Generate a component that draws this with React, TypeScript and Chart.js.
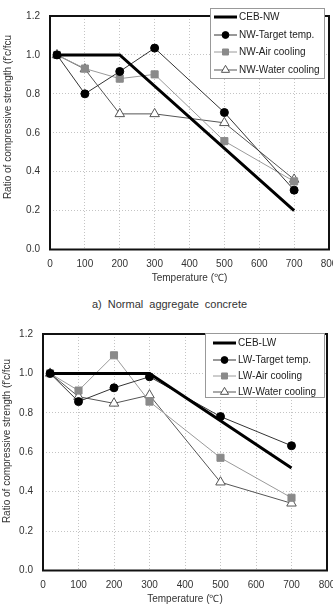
import React, { useEffect, useRef } from "react";
import { Chart, registerables } from "chart.js";
import { drawPoint } from "chart.js/helpers";

Chart.register(...registerables);

// Measured temperatures (°C) for the test series
const temperatures = [20, 100, 200, 300, 500, 700];

// a) Normal aggregate concrete
const nwCebTemps = [20, 200, 700];
const nwCebRatio = [1.0, 1.0, 0.2];
const nwTarget = [1.0, 0.8, 0.915, 1.035, 0.704, 0.305];
const nwAir = [1.0, 0.93, 0.878, 0.9, 0.557, 0.35];
const nwWater = [1.0, 0.927, 0.697, 0.697, 0.651, 0.36];

// Lightweight aggregate concrete
const lwCebTemps = [20, 300, 700];
const lwCebRatio = [1.0, 1.0, 0.52];
const lwTarget = [1.0, 0.857, 0.927, 0.983, 0.781, 0.633];
const lwAir = [1.0, 0.913, 1.092, 0.857, 0.572, 0.369];
const lwWater = [1.0, 0.882, 0.848, 0.89, 0.448, 0.341];

// Axis ticks
const tempTicks = [0, 100, 200, 300, 400, 500, 600, 700, 800];
const ratioTicks = [0, 0.2, 0.4, 0.6, 0.8, 1.0, 1.2];

const xTitle = "Temperature (\u2103)";
const yTitle = "Ratio of compressive strength (f'c/fcu";
const captionNW = "a) Normal aggregate concrete";

const FONT = "Arial, 'Liberation Sans', sans-serif";

const pts = (xs: number[], ys: number[]) => xs.map((x, i) => ({ x, y: ys[i] }));

function makeDatasets(prefix: string, cebX: number[], cebY: number[], target: number[], air: number[], water: number[]) {
  return [
    {
      label: `CEB-${prefix}`,
      data: pts(cebX, cebY),
      borderColor: "#000",
      borderWidth: 3,
      pointRadius: 0,
      pointStyle: "circle",
      pointBackgroundColor: "#000",
      pointBorderColor: "#000",
      pointBorderWidth: 0,
    },
    {
      label: `${prefix}-Target temp.`,
      data: pts(temperatures, target),
      borderColor: "#333",
      borderWidth: 1,
      pointRadius: 4,
      pointStyle: "circle",
      pointBackgroundColor: "#000",
      pointBorderColor: "#000",
      pointBorderWidth: 1,
    },
    {
      label: `${prefix}-Air cooling`,
      data: pts(temperatures, air),
      borderColor: "#9a9a9a",
      borderWidth: 1,
      pointRadius: 5,
      pointStyle: "rect",
      pointBackgroundColor: "#8a8a8a",
      pointBorderColor: "#8a8a8a",
      pointBorderWidth: 1,
    },
    {
      label: `${prefix}-Water cooling`,
      data: pts(temperatures, water),
      borderColor: "#555",
      borderWidth: 1,
      pointRadius: 5.5,
      pointStyle: "triangle",
      pointBackgroundColor: "#fff",
      pointBorderColor: "#555",
      pointBorderWidth: 1,
    },
  ];
}

// Black frame round the plot area
const framePlugin = {
  id: "plotFrame",
  beforeDatasetsDraw(chart: any) {
    const { ctx, chartArea: a } = chart;
    ctx.save();
    ctx.strokeStyle = "#111";
    ctx.lineWidth = 2;
    ctx.strokeRect(a.left, a.top, a.right - a.left, a.bottom - a.top);
    ctx.restore();
  },
};

// Rotated y-axis title
const yTitlePlugin = {
  id: "yTitle",
  afterDraw(chart: any, _args: any, opts: any) {
    const { ctx } = chart;
    ctx.save();
    ctx.translate(opts.x, opts.y);
    ctx.rotate(-Math.PI / 2);
    ctx.font = `10px ${FONT}`;
    ctx.fillStyle = "#333";
    ctx.textAlign = "center";
    ctx.textBaseline = "middle";
    ctx.fillText(opts.text, 0, 0);
    ctx.restore();
  },
};

// Boxed legend inside the plot area
const boxLegendPlugin = {
  id: "boxLegend",
  afterDraw(chart: any, _args: any, opts: any) {
    const { ctx } = chart;
    const b = opts.box;
    ctx.save();
    ctx.fillStyle = "#fff";
    ctx.fillRect(b.left, b.top, b.right - b.left, b.bottom - b.top);
    ctx.strokeStyle = "#999";
    ctx.lineWidth = 1;
    ctx.strokeRect(b.left + 0.5, b.top + 0.5, b.right - b.left - 1, b.bottom - b.top - 1);
    chart.data.datasets.forEach((ds: any, i: number) => {
      const y = b.rows[i];
      ctx.beginPath();
      ctx.strokeStyle = ds.borderColor;
      ctx.lineWidth = ds.borderWidth;
      ctx.moveTo(b.lineX0, y);
      ctx.lineTo(b.lineX1, y);
      ctx.stroke();
      if (ds.pointRadius > 0) {
        ctx.fillStyle = ds.pointBackgroundColor;
        ctx.strokeStyle = ds.pointBorderColor;
        ctx.lineWidth = ds.pointBorderWidth;
        drawPoint(
          ctx,
          { pointStyle: ds.pointStyle, radius: ds.pointRadius * 0.85, borderWidth: ds.pointBorderWidth, rotation: 0 } as any,
          (b.lineX0 + b.lineX1) / 2,
          y
        );
      }
      ctx.fillStyle = "#222";
      ctx.font = `10px ${FONT}`;
      ctx.textAlign = "left";
      ctx.textBaseline = "middle";
      ctx.fillText(ds.label, b.textX, y + 0.5);
    });
    ctx.restore();
  },
};

type PanelProps = {
  top: number;
  height: number;
  area: { left: number; right: number; top: number; bottom: number };
  datasets: any[];
  legendBox: any;
  yTitlePos: { x: number; y: number };
  xTitlePad: number;
};

const CANVAS_W = 370;

function Panel({ top, height, area, datasets, legendBox, yTitlePos, xTitlePad }: PanelProps) {
  const ref = useRef<HTMLCanvasElement | null>(null);
  useEffect(() => {
    if (!ref.current) return;
    const tickFont = { family: FONT, size: 10 };
    const chart = new Chart(ref.current, {
      type: "line",
      data: { datasets },
      plugins: [framePlugin, yTitlePlugin, boxLegendPlugin],
      options: {
        responsive: false,
        animation: false,
        devicePixelRatio: 1,
        layout: {
          padding: { left: 0, top: area.top, right: CANVAS_W - area.right, bottom: 0 },
        },
        plugins: {
          legend: { display: false },
          tooltip: { enabled: false },
          yTitle: { x: yTitlePos.x, y: yTitlePos.y, text: yTitle },
          boxLegend: { box: legendBox },
        } as any,
        scales: {
          x: {
            type: "linear",
            min: 0,
            max: 800,
            afterBuildTicks: (s: any) => {
              s.ticks = tempTicks.map((v) => ({ value: v }));
            },
            afterFit: (s: any) => {
              s.height = height - area.bottom;
            },
            ticks: { font: tickFont, color: "#333", padding: 9, maxRotation: 0, autoSkip: false },
            grid: { color: "#c4c4c4", lineWidth: 1, drawTicks: false },
            border: { display: false, dash: [1, 2] },
            title: { display: true, text: xTitle, font: tickFont, color: "#333", padding: { top: 0, bottom: xTitlePad } },
          },
          y: {
            type: "linear",
            min: 0,
            max: 1.2,
            afterBuildTicks: (s: any) => {
              s.ticks = ratioTicks.map((v) => ({ value: v }));
            },
            afterFit: (s: any) => {
              s.width = area.left;
            },
            ticks: { font: tickFont, color: "#333", padding: 10, callback: (v: any) => Number(v).toFixed(1) },
            grid: { color: "#c4c4c4", lineWidth: 1, drawTicks: false },
            border: { display: false, dash: [1, 2] },
          },
        },
      },
    });
    return () => chart.destroy();
  }, []);
  return (
    <canvas
      ref={ref}
      width={CANVAS_W}
      height={height}
      style={{ position: "absolute", left: 0, top, width: CANVAS_W, height }}
    />
  );
}

export default function App() {
  const nwSets = makeDatasets("NW", nwCebTemps, nwCebRatio, nwTarget, nwAir, nwWater);
  const lwSets = makeDatasets("LW", lwCebTemps, lwCebRatio, lwTarget, lwAir, lwWater);
  return (
    <div
      style={{
        position: "fixed",
        left: 0,
        top: 0,
        width: 333,
        height: 607,
        overflow: "hidden",
        background: "#fff",
      }}
    >
      <Panel
        top={0}
        height={292}
        area={{ left: 50, right: 329, top: 6.5, bottom: 249.5 }}
        datasets={nwSets}
        legendBox={{ left: 210, right: 325, top: 8, bottom: 79, rows: [17, 35, 52, 70], lineX0: 214, lineX1: 237, textX: 239 }}
        yTitlePos={{ x: 8, y: 117 }}
        xTitlePad={8}
      />
      <div
        style={{
          position: "absolute",
          left: 0,
          width: 333,
          top: 297,
          textAlign: "center",
          font: `11px ${FONT}`,
          color: "#333",
          wordSpacing: 3,
          paddingLeft: 3,
          lineHeight: "14px",
        }}
      >
        {captionNW}
      </div>
      <Panel
        top={318}
        height={289}
        area={{ left: 43, right: 327, top: 10, bottom: 252.5 }}
        datasets={lwSets}
        legendBox={{ left: 205, right: 325, top: 15, bottom: 80, rows: [25, 42, 58, 74], lineX0: 213, lineX1: 236, textX: 238 }}
        yTitlePos={{ x: 7, y: 123 }}
        xTitlePad={2}
      />
    </div>
  );
}
